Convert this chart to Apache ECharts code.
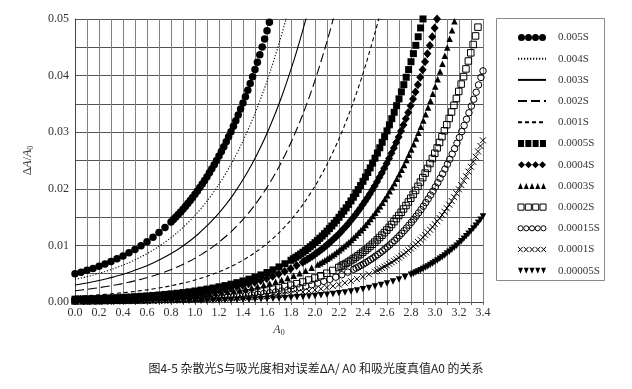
<!DOCTYPE html>
<html><head><meta charset="utf-8">
<script src="https://cdn.jsdelivr.net/npm/echarts@6/dist/echarts.min.js"></script>
<style>html,body{margin:0;padding:0;background:#fff}#c{width:632px;height:389px}</style>
</head><body><div id="c"></div>
<script>
// ---- data: [A0, dA/A0] ----
const legendNames = ['0.005S','0.004S','0.003S','0.002S','0.001S','0.0005S','0.0004S','0.0003S','0.0002S','0.00015S','0.0001S','0.00005S'];

const s005 = [[0,0.00498],[0.05,0.00527],[0.1,0.00559],[0.15,0.00594],[0.2,0.00631],[0.25,0.00671],[0.3,0.00715],[0.35,0.00762],[0.4,0.00814],[0.45,0.00869],[0.5,0.00929],[0.55,0.00995],[0.6,0.01066],[0.65,0.01143],[0.7,0.01226],[0.75,0.01317],[0.8,0.01415],[0.82,0.01457],[0.84,0.015],[0.86,0.01545],[0.88,0.01591],[0.9,0.01639],[0.92,0.01688],[0.94,0.01739],[0.96,0.01792],[0.98,0.01846],[1.0,0.01902],[1.02,0.01961],[1.04,0.02021],[1.06,0.02083],[1.08,0.02147],[1.1,0.02213],[1.12,0.02282],[1.14,0.02353],[1.16,0.02426],[1.18,0.02501],[1.2,0.0258],[1.22,0.0266],[1.24,0.02744],[1.26,0.0283],[1.28,0.02919],[1.3,0.0301],[1.32,0.03105],[1.34,0.03203],[1.36,0.03304],[1.38,0.03408],[1.4,0.03515],[1.42,0.03626],[1.44,0.03741],[1.46,0.03859],[1.48,0.0398],[1.5,0.04106],[1.52,0.04235],[1.54,0.04368],[1.56,0.04505],[1.58,0.04647],[1.6,0.04792],[1.62,0.04942],[1.64,0.05096],[1.66,0.05254]];

const s004 = [[0,0.00398],[0.097,0.00446],[0.147,0.00474],[0.197,0.00504],[0.247,0.00536],[0.297,0.00571],[0.347,0.00608],[0.397,0.00649],[0.447,0.00694],[0.497,0.00742],[0.547,0.00794],[0.597,0.00851],[0.647,0.00913],[0.697,0.0098],[0.747,0.01052],[0.797,0.01131],[0.847,0.01217],[0.897,0.01311],[0.997,0.01523],[1.097,0.01774],[1.197,0.0207],[1.297,0.0242],[1.397,0.02832],[1.497,0.03317],[1.597,0.03884],[1.697,0.04544],[1.757,0.04989],[1.797,0.05308]];

const s003 = [[0,0.00299],[0.122,0.00345],[0.222,0.0039],[0.272,0.00415],[0.322,0.00443],[0.372,0.00472],[0.422,0.00504],[0.472,0.00539],[0.522,0.00577],[0.572,0.00618],[0.622,0.00663],[0.672,0.00711],[0.722,0.00764],[0.772,0.00821],[0.822,0.00883],[0.872,0.00951],[0.922,0.01025],[0.972,0.01105],[1.022,0.01193],[1.122,0.01392],[1.222,0.01628],[1.322,0.01907],[1.422,0.02238],[1.522,0.02628],[1.622,0.03088],[1.722,0.03627],[1.822,0.04256],[1.882,0.04681],[1.922,0.04986],[1.962,0.05308]];

const s002 = [[0,0.002],[0.098,0.00224],[0.198,0.00253],[0.298,0.00287],[0.398,0.00326],[0.448,0.00349],[0.498,0.00373],[0.548,0.004],[0.598,0.00428],[0.648,0.00459],[0.698,0.00493],[0.748,0.0053],[0.798,0.00571],[0.848,0.00614],[0.898,0.00662],[0.948,0.00714],[0.998,0.00771],[1.048,0.00833],[1.098,0.009],[1.148,0.00974],[1.198,0.01054],[1.298,0.01236],[1.398,0.01454],[1.498,0.01712],[1.598,0.02018],[1.698,0.02381],[1.798,0.0281],[1.898,0.03313],[1.998,0.03903],[2.098,0.04588],[2.158,0.05049],[2.198,0.05378]];

const s001 = [[0,0.001],[0.099,0.00112],[0.199,0.00127],[0.299,0.00144],[0.399,0.00164],[0.499,0.00187],[0.599,0.00215],[0.699,0.00248],[0.749,0.00266],[0.799,0.00287],[0.849,0.00309],[0.899,0.00333],[0.949,0.00359],[0.999,0.00388],[1.049,0.0042],[1.099,0.00454],[1.149,0.00491],[1.199,0.00532],[1.249,0.00577],[1.299,0.00626],[1.349,0.00679],[1.399,0.00737],[1.449,0.00801],[1.499,0.00871],[1.599,0.01031],[1.699,0.01222],[1.799,0.0145],[1.899,0.01721],[1.999,0.02044],[2.099,0.02427],[2.199,0.02879],[2.299,0.0341],[2.399,0.0403],[2.499,0.04748],[2.539,0.05064],[2.599,0.05572]];

const s0005 = [[0,0.0005],[0.05,0.00053],[0.1,0.00056],[0.15,0.0006],[0.2,0.00063],[0.25,0.00068],[0.3,0.00072],[0.35,0.00077],[0.4,0.00082],[0.45,0.00088],[0.5,0.00094],[0.55,0.00101],[0.6,0.00108],[0.65,0.00116],[0.7,0.00124],[0.75,0.00134],[0.8,0.00144],[0.85,0.00155],[0.9,0.00167],[0.95,0.0018],[1.0,0.00195],[1.05,0.00211],[1.1,0.00228],[1.15,0.00247],[1.2,0.00268],[1.25,0.0029],[1.3,0.00315],[1.35,0.00342],[1.4,0.00372],[1.45,0.00404],[1.5,0.0044],[1.55,0.00479],[1.6,0.00521],[1.65,0.00568],[1.7,0.0062],[1.75,0.00676],[1.8,0.00737],[1.82,0.00764],[1.84,0.00791],[1.86,0.00819],[1.88,0.00848],[1.9,0.00879],[1.92,0.0091],[1.94,0.00943],[1.96,0.00977],[1.98,0.01012],[2.0,0.01049],[2.02,0.01086],[2.04,0.01126],[2.06,0.01166],[2.08,0.01209],[2.1,0.01252],[2.12,0.01297],[2.14,0.01344],[2.16,0.01393],[2.18,0.01443],[2.2,0.01496],[2.22,0.0155],[2.24,0.01606],[2.26,0.01664],[2.28,0.01724],[2.3,0.01786],[2.32,0.01851],[2.34,0.01917],[2.36,0.01986],[2.38,0.02058],[2.4,0.02132],[2.42,0.02208],[2.44,0.02288],[2.46,0.02369],[2.48,0.02454],[2.5,0.02541],[2.52,0.02632],[2.54,0.02725],[2.56,0.02822],[2.58,0.02921],[2.6,0.03024],[2.62,0.0313],[2.64,0.03239],[2.66,0.03352],[2.68,0.03469],[2.7,0.03589],[2.72,0.03713],[2.74,0.0384],[2.76,0.03971],[2.78,0.04106],[2.8,0.04245],[2.82,0.04388],[2.84,0.04535],[2.86,0.04687],[2.88,0.04842],[2.9,0.05001],[2.92,0.05165]];

const s0004 = [[0,0.0004],[0.047,0.00042],[0.097,0.00045],[0.147,0.00048],[0.197,0.00051],[0.247,0.00054],[0.297,0.00057],[0.347,0.00061],[0.397,0.00065],[0.447,0.0007],[0.497,0.00075],[0.547,0.0008],[0.597,0.00086],[0.647,0.00092],[0.697,0.00099],[0.747,0.00107],[0.797,0.00115],[0.847,0.00124],[0.897,0.00133],[0.947,0.00144],[0.997,0.00155],[1.047,0.00168],[1.097,0.00182],[1.147,0.00197],[1.197,0.00213],[1.247,0.00231],[1.297,0.00251],[1.347,0.00273],[1.397,0.00296],[1.447,0.00322],[1.497,0.00351],[1.547,0.00382],[1.597,0.00416],[1.647,0.00453],[1.697,0.00494],[1.747,0.00539],[1.797,0.00589],[1.847,0.00643],[1.897,0.00702],[1.917,0.00727],[1.937,0.00754],[1.957,0.00781],[1.977,0.00809],[1.997,0.00838],[2.017,0.00869],[2.037,0.009],[2.057,0.00933],[2.077,0.00967],[2.097,0.01002],[2.117,0.01039],[2.137,0.01077],[2.157,0.01116],[2.177,0.01157],[2.197,0.01199],[2.217,0.01243],[2.237,0.01288],[2.257,0.01335],[2.277,0.01384],[2.297,0.01434],[2.317,0.01487],[2.337,0.01541],[2.357,0.01597],[2.377,0.01656],[2.397,0.01716],[2.417,0.01778],[2.437,0.01843],[2.457,0.0191],[2.477,0.01979],[2.497,0.02051],[2.517,0.02125],[2.537,0.02202],[2.557,0.02281],[2.577,0.02363],[2.597,0.02448],[2.617,0.02536],[2.637,0.02627],[2.657,0.0272],[2.677,0.02817],[2.697,0.02917],[2.717,0.0302],[2.737,0.03126],[2.757,0.03236],[2.777,0.03349],[2.797,0.03466],[2.817,0.03586],[2.837,0.0371],[2.857,0.03838],[2.877,0.03969],[2.897,0.04105],[2.917,0.04244],[2.937,0.04387],[2.957,0.04534],[2.977,0.04686],[2.997,0.04841],[3.017,0.05],[3.037,0.05164]];

const s0003 = [[0,0.0003],[0.072,0.00033],[0.122,0.00035],[0.172,0.00037],[0.222,0.00039],[0.272,0.00042],[0.322,0.00044],[0.372,0.00047],[0.422,0.00051],[0.472,0.00054],[0.522,0.00058],[0.572,0.00062],[0.622,0.00067],[0.672,0.00072],[0.722,0.00077],[0.772,0.00083],[0.822,0.00089],[0.872,0.00096],[0.922,0.00104],[0.972,0.00112],[1.022,0.00121],[1.072,0.00131],[1.122,0.00142],[1.172,0.00154],[1.222,0.00167],[1.272,0.00181],[1.322,0.00196],[1.372,0.00213],[1.422,0.00232],[1.472,0.00252],[1.522,0.00275],[1.572,0.00299],[1.622,0.00326],[1.672,0.00356],[1.722,0.00388],[1.772,0.00424],[1.822,0.00463],[1.872,0.00506],[1.922,0.00553],[1.972,0.00604],[2.022,0.00661],[2.042,0.00685],[2.062,0.0071],[2.082,0.00736],[2.102,0.00763],[2.122,0.00791],[2.142,0.0082],[2.162,0.0085],[2.182,0.00882],[2.202,0.00914],[2.222,0.00948],[2.242,0.00983],[2.262,0.01019],[2.282,0.01057],[2.302,0.01096],[2.322,0.01136],[2.342,0.01178],[2.362,0.01222],[2.382,0.01267],[2.402,0.01314],[2.422,0.01362],[2.442,0.01413],[2.462,0.01465],[2.482,0.01519],[2.502,0.01575],[2.522,0.01633],[2.542,0.01693],[2.562,0.01755],[2.582,0.01819],[2.602,0.01886],[2.622,0.01955],[2.642,0.02026],[2.662,0.021],[2.682,0.02177],[2.702,0.02256],[2.722,0.02337],[2.742,0.02422],[2.762,0.02509],[2.782,0.026],[2.802,0.02693],[2.822,0.02789],[2.842,0.02889],[2.862,0.02991],[2.882,0.03097],[2.902,0.03207],[2.922,0.03319],[2.942,0.03436],[2.962,0.03555],[2.982,0.03679],[3.002,0.03806],[3.022,0.03936],[3.042,0.04071],[3.062,0.0421],[3.082,0.04352],[3.102,0.04498],[3.122,0.04649],[3.142,0.04803],[3.162,0.04961],[3.182,0.05124]];

const s0002 = [[0,0.0002],[0.048,0.00021],[0.098,0.00022],[0.148,0.00024],[0.198,0.00025],[0.248,0.00027],[0.298,0.00029],[0.348,0.00031],[0.398,0.00033],[0.448,0.00035],[0.498,0.00037],[0.548,0.0004],[0.598,0.00043],[0.648,0.00046],[0.698,0.0005],[0.748,0.00053],[0.798,0.00057],[0.848,0.00062],[0.898,0.00067],[0.948,0.00072],[0.998,0.00078],[1.048,0.00084],[1.098,0.00091],[1.148,0.00099],[1.198,0.00107],[1.248,0.00116],[1.298,0.00126],[1.348,0.00137],[1.398,0.00149],[1.448,0.00162],[1.498,0.00176],[1.548,0.00192],[1.598,0.00209],[1.648,0.00228],[1.698,0.00249],[1.748,0.00272],[1.798,0.00297],[1.848,0.00324],[1.898,0.00354],[1.948,0.00388],[1.998,0.00424],[2.048,0.00464],[2.098,0.00508],[2.148,0.00557],[2.198,0.0061],[2.218,0.00633],[2.238,0.00656],[2.258,0.00681],[2.278,0.00706],[2.298,0.00732],[2.318,0.0076],[2.338,0.00788],[2.358,0.00818],[2.378,0.00848],[2.398,0.0088],[2.418,0.00913],[2.438,0.00947],[2.458,0.00983],[2.478,0.0102],[2.498,0.01058],[2.518,0.01098],[2.538,0.01139],[2.558,0.01181],[2.578,0.01226],[2.598,0.01272],[2.618,0.01319],[2.638,0.01369],[2.658,0.0142],[2.678,0.01473],[2.698,0.01528],[2.718,0.01585],[2.738,0.01644],[2.758,0.01705],[2.778,0.01768],[2.798,0.01833],[2.818,0.01901],[2.838,0.01971],[2.858,0.02044],[2.878,0.02119],[2.898,0.02197],[2.918,0.02277],[2.938,0.0236],[2.958,0.02446],[2.978,0.02535],[2.998,0.02627],[3.018,0.02722],[3.038,0.02819],[3.058,0.0292],[3.078,0.03025],[3.098,0.03132],[3.118,0.03243],[3.138,0.03357],[3.158,0.03475],[3.178,0.03596],[3.198,0.03721],[3.218,0.0385],[3.238,0.03982],[3.258,0.04118],[3.278,0.04258],[3.298,0.04402],[3.318,0.04549],[3.338,0.04701],[3.358,0.04856],[3.378,0.05016],[3.398,0.0518]];

const s00015 = [[0,0.00015],[0.073,0.00016],[0.123,0.00017],[0.173,0.00018],[0.223,0.0002],[0.273,0.00021],[0.323,0.00022],[0.373,0.00024],[0.423,0.00025],[0.473,0.00027],[0.523,0.00029],[0.573,0.00031],[0.623,0.00033],[0.673,0.00036],[0.723,0.00039],[0.773,0.00042],[0.823,0.00045],[0.873,0.00048],[0.923,0.00052],[0.973,0.00056],[1.023,0.00061],[1.073,0.00066],[1.123,0.00071],[1.173,0.00077],[1.223,0.00084],[1.273,0.00091],[1.323,0.00098],[1.373,0.00107],[1.423,0.00116],[1.473,0.00127],[1.523,0.00138],[1.573,0.0015],[1.623,0.00164],[1.673,0.00179],[1.723,0.00195],[1.773,0.00213],[1.823,0.00233],[1.873,0.00255],[1.923,0.00279],[1.973,0.00305],[2.023,0.00334],[2.073,0.00365],[2.123,0.004],[2.173,0.00439],[2.223,0.00481],[2.273,0.00527],[2.323,0.00578],[2.343,0.006],[2.363,0.00622],[2.383,0.00646],[2.403,0.0067],[2.423,0.00695],[2.443,0.00722],[2.463,0.00749],[2.483,0.00777],[2.503,0.00807],[2.523,0.00837],[2.543,0.00869],[2.563,0.00902],[2.583,0.00936],[2.603,0.00972],[2.623,0.01008],[2.643,0.01047],[2.663,0.01086],[2.683,0.01127],[2.703,0.0117],[2.723,0.01214],[2.743,0.0126],[2.763,0.01307],[2.783,0.01357],[2.803,0.01408],[2.823,0.01461],[2.843,0.01516],[2.863,0.01573],[2.883,0.01631],[2.903,0.01693],[2.923,0.01756],[2.943,0.01821],[2.963,0.01889],[2.983,0.01959],[3.003,0.02032],[3.023,0.02107],[3.043,0.02185],[3.063,0.02265],[3.083,0.02348],[3.103,0.02434],[3.123,0.02522],[3.143,0.02614],[3.163,0.02709],[3.183,0.02806],[3.203,0.02907],[3.223,0.03011],[3.243,0.03119],[3.263,0.03229],[3.283,0.03343],[3.303,0.03461],[3.323,0.03582],[3.343,0.03706],[3.363,0.03835],[3.383,0.03967],[3.4,0.04083]];

const s0001 = [[0,0.0001],[0.049,0.00011],[0.099,0.00011],[0.149,0.00012],[0.199,0.00013],[0.249,0.00014],[0.299,0.00014],[0.349,0.00015],[0.399,0.00016],[0.449,0.00018],[0.499,0.00019],[0.549,0.0002],[0.599,0.00022],[0.649,0.00023],[0.699,0.00025],[0.749,0.00027],[0.799,0.00029],[0.849,0.00031],[0.899,0.00033],[0.949,0.00036],[0.999,0.00039],[1.049,0.00042],[1.099,0.00046],[1.149,0.00049],[1.199,0.00054],[1.249,0.00058],[1.299,0.00063],[1.349,0.00069],[1.399,0.00075],[1.449,0.00081],[1.499,0.00088],[1.549,0.00096],[1.599,0.00105],[1.649,0.00115],[1.699,0.00125],[1.749,0.00136],[1.799,0.00149],[1.849,0.00163],[1.899,0.00178],[1.949,0.00195],[1.999,0.00214],[2.049,0.00234],[2.099,0.00256],[2.149,0.00281],[2.199,0.00308],[2.249,0.00338],[2.299,0.0037],[2.349,0.00407],[2.399,0.00446],[2.449,0.0049],[2.499,0.00538],[2.519,0.00559],[2.539,0.0058],[2.559,0.00602],[2.579,0.00625],[2.599,0.00649],[2.619,0.00674],[2.639,0.007],[2.659,0.00727],[2.679,0.00755],[2.699,0.00784],[2.719,0.00814],[2.739,0.00845],[2.759,0.00877],[2.779,0.00911],[2.799,0.00946],[2.819,0.00982],[2.839,0.0102],[2.859,0.01059],[2.879,0.01099],[2.899,0.01141],[2.919,0.01185],[2.939,0.0123],[2.959,0.01277],[2.979,0.01326],[2.999,0.01376],[3.019,0.01428],[3.039,0.01482],[3.059,0.01538],[3.079,0.01596],[3.099,0.01657],[3.119,0.01719],[3.139,0.01784],[3.159,0.01851],[3.179,0.0192],[3.199,0.01992],[3.219,0.02066],[3.239,0.02142],[3.259,0.02222],[3.279,0.02304],[3.299,0.02389],[3.319,0.02476],[3.339,0.02567],[3.359,0.0266],[3.379,0.02756],[3.399,0.02856]];

const s00005 = [[0,0.00005],[0.05,0.00005],[0.1,0.00006],[0.15,0.00006],[0.2,0.00006],[0.25,0.00007],[0.3,0.00007],[0.35,0.00008],[0.4,0.00008],[0.45,0.00009],[0.5,0.00009],[0.55,0.0001],[0.6,0.00011],[0.65,0.00012],[0.7,0.00012],[0.75,0.00013],[0.8,0.00014],[0.85,0.00016],[0.9,0.00017],[0.95,0.00018],[1.0,0.0002],[1.05,0.00021],[1.1,0.00023],[1.15,0.00025],[1.2,0.00027],[1.25,0.00029],[1.3,0.00032],[1.35,0.00034],[1.4,0.00037],[1.45,0.00041],[1.5,0.00044],[1.55,0.00048],[1.6,0.00053],[1.65,0.00057],[1.7,0.00063],[1.75,0.00068],[1.8,0.00075],[1.85,0.00082],[1.9,0.0009],[1.95,0.00098],[2.0,0.00107],[2.05,0.00118],[2.1,0.00129],[2.15,0.00141],[2.2,0.00155],[2.25,0.0017],[2.3,0.00187],[2.35,0.00205],[2.4,0.00225],[2.45,0.00247],[2.5,0.00272],[2.55,0.00299],[2.6,0.00328],[2.65,0.00361],[2.7,0.00397],[2.75,0.00437],[2.8,0.00481],[2.82,0.005],[2.84,0.00519],[2.86,0.0054],[2.88,0.00561],[2.9,0.00583],[2.92,0.00605],[2.94,0.00629],[2.96,0.00654],[2.98,0.00679],[3.0,0.00706],[3.02,0.00733],[3.04,0.00762],[3.06,0.00792],[3.08,0.00823],[3.1,0.00855],[3.12,0.00888],[3.14,0.00922],[3.16,0.00958],[3.18,0.00996],[3.2,0.01034],[3.22,0.01075],[3.24,0.01116],[3.26,0.0116],[3.28,0.01205],[3.3,0.01251],[3.32,0.01299],[3.34,0.01349],[3.36,0.01401],[3.38,0.01455],[3.4,0.01511]];

const caption = '图4-5 杂散光S与吸光度相对误差ΔA/ A0 和吸光度真值A0 的关系';

// ---- styling ----
const SERIF = '"Liberation Serif", "Times New Roman", serif';
const BLK = '#000';
const crossPath = 'path://M0,0L10,10M10,0L0,10';

const icons = {
  circles: 'path://M0,3.5a3.5,3.5 0 1 0 7,0a3.5,3.5 0 1 0 -7,0ZM7,3.5a3.5,3.5 0 1 0 7,0a3.5,3.5 0 1 0 -7,0ZM14,3.5a3.5,3.5 0 1 0 7,0a3.5,3.5 0 1 0 -7,0ZM21,3.5a3.5,3.5 0 1 0 7,0a3.5,3.5 0 1 0 -7,0Z',
  squares: 'path://M0,0h6v7h-6zM7.3,0h6v7h-6zM14.6,0h6v7h-6zM21.9,0h6v7h-6z',
  diamonds: 'path://M0,3.5L3.5,0L7,3.5L3.5,7ZM7,3.5L10.5,0L14,3.5L10.5,7ZM14,3.5L17.5,0L21,3.5L17.5,7ZM21,3.5L24.5,0L28,3.5L24.5,7Z',
  triangles: 'path://M0,7L2.5,1L5,7ZM5.75,7L8.25,1L10.75,7ZM11.5,7L14,1L16.5,7ZM17.25,7L19.75,1L22.25,7ZM23,7L25.5,1L28,7Z',
  osquares: 'path://M0.5,0.5h5.8v6h-5.8zM7.6,0.5h5.8v6h-5.8zM14.7,0.5h5.8v6h-5.8zM21.8,0.5h5.8v6h-5.8z',
  ocircles: 'path://M0.3,3.5a2.5,2.5 0 1 0 5,0a2.5,2.5 0 1 0 -5,0ZM5.9,3.5a2.5,2.5 0 1 0 5,0a2.5,2.5 0 1 0 -5,0ZM11.5,3.5a2.5,2.5 0 1 0 5,0a2.5,2.5 0 1 0 -5,0ZM17.1,3.5a2.5,2.5 0 1 0 5,0a2.5,2.5 0 1 0 -5,0ZM22.7,3.5a2.5,2.5 0 1 0 5,0a2.5,2.5 0 1 0 -5,0Z',
  crosses: 'path://M0.3,1L4.8,6M4.8,1L0.3,6M5.9,1L10.4,6M10.4,1L5.9,6M11.5,1L16,6M16,1L11.5,6M17.1,1L21.6,6M21.6,1L17.1,6M22.7,1L27.2,6M27.2,1L22.7,6',
  dtriangles: 'path://M0,1L5,1L2.5,7ZM5.75,1L10.75,1L8.25,7ZM11.5,1L16.5,1L14,7ZM17.25,1L22.25,1L19.75,7ZM23,1L28,1L25.5,7Z'
};

function scatterSeries(name, data, symbol, size, hollow, rotate) {
  return {
    name, type: 'scatter', data, symbol, symbolSize: size, symbolRotate: rotate || 0,
    clip: true, silent: true,
    itemStyle: hollow
      ? {color: 'rgba(255,255,255,0)', borderColor: BLK, borderWidth: 1, opacity: 1}
      : {color: BLK, opacity: 1}
  };
}
function lineSeries(name, data, type) {
  return {
    name, type: 'line', data, showSymbol: false, symbol: 'none', smooth: 0.3, clip: true, silent: true,
    lineStyle: {color: BLK, width: 1.1, type}, itemStyle: {color: BLK}
  };
}

const hollowStyle = {color: 'rgba(255,255,255,0)', borderColor: BLK, borderWidth: 1};
const solidStyle = {color: BLK, borderWidth: 0};
const noSymbolStyle = {color: 'rgba(0,0,0,0)', borderColor: 'rgba(0,0,0,0)', borderWidth: 0, opacity: 0};

const option = {
  animation: false,
  backgroundColor: '#fff',
  title: {
    text: caption, left: 'center', top: 357,
    textStyle: {fontFamily: '"Noto Sans CJK SC", sans-serif', fontSize: 12, fontWeight: 'normal', color: '#222'}
  },
  grid: {left: 75, top: 19, width: 408, height: 283},
  xAxis: {
    type: 'value', min: 0, max: 3.4, interval: 0.1,
    name: '{i|A}{s|0}', nameLocation: 'middle', nameGap: 18,
    nameTextStyle: {rich: {
      i: {fontFamily: SERIF, fontStyle: 'italic', fontSize: 12, color: '#333'},
      s: {fontFamily: SERIF, fontSize: 8, color: '#333', padding: [7, 0, 0, 0]}
    }},
    axisLine: {lineStyle: {color: '#444'}},
    axisTick: {show: true, length: 3, lineStyle: {color: '#666'}},
    axisLabel: {
      formatter: v => (Math.round(v * 10) % 2 === 0 ? v.toFixed(1) : ''),
      fontFamily: SERIF, fontSize: 12, color: '#333', margin: 5
    },
    splitLine: {show: true, lineStyle: {color: '#808080', width: 1}}
  },
  yAxis: {
    type: 'value', min: 0, max: 0.05, interval: 0.005,
    name: '{d|Δ}{i|A}{d|/}{i|A}{s|0}', nameLocation: 'middle', nameGap: 40,
    nameTextStyle: {rich: {
      d: {fontFamily: SERIF, fontSize: 12, color: '#333'},
      i: {fontFamily: SERIF, fontStyle: 'italic', fontSize: 12, color: '#333'},
      s: {fontFamily: SERIF, fontSize: 8, color: '#333', padding: [7, 0, 0, 0]}
    }},
    axisLine: {show: true, lineStyle: {color: '#444'}},
    axisTick: {show: false},
    axisLabel: {
      formatter: v => (Math.round(v * 1000) % 10 === 0 ? v.toFixed(2) : ''),
      fontFamily: SERIF, fontSize: 12, color: '#333', margin: 6
    },
    splitLine: {show: true, lineStyle: {color: '#555', width: 1}}
  },
  legend: {
    orient: 'vertical', left: 512, top: 27, itemWidth: 28, itemHeight: 7, itemGap: 10.2,
    selectedMode: false,
    textStyle: {fontFamily: SERIF, fontSize: 11, color: '#333', padding: [0, 0, 0, 7]},
    data: [
      {name: '0.005S', icon: icons.circles, itemStyle: solidStyle},
      {name: '0.004S', itemStyle: noSymbolStyle},
      {name: '0.003S', itemStyle: noSymbolStyle},
      {name: '0.002S', itemStyle: noSymbolStyle},
      {name: '0.001S', itemStyle: noSymbolStyle},
      {name: '0.0005S', icon: icons.squares, itemStyle: solidStyle},
      {name: '0.0004S', icon: icons.diamonds, itemStyle: solidStyle},
      {name: '0.0003S', icon: icons.triangles, itemStyle: solidStyle},
      {name: '0.0002S', icon: icons.osquares, itemStyle: hollowStyle},
      {name: '0.00015S', icon: icons.ocircles, itemStyle: hollowStyle},
      {name: '0.0001S', icon: icons.crosses, itemStyle: hollowStyle},
      {name: '0.00005S', icon: icons.dtriangles, itemStyle: solidStyle}
    ]
  },
  graphic: [{
    type: 'rect', left: 496, top: 18, z: -1,
    shape: {width: 108, height: 262},
    style: {fill: '#fff', stroke: '#8a8a8a', lineWidth: 1}
  }],
  series: [
    scatterSeries(legendNames[0], s005, 'circle', 7.5),
    lineSeries(legendNames[1], s004, [1.2, 1.8]),
    lineSeries(legendNames[2], s003, 'solid'),
    lineSeries(legendNames[3], s002, [9, 4]),
    lineSeries(legendNames[4], s001, [4, 3]),
    scatterSeries(legendNames[5], s0005, 'rect', 7),
    scatterSeries(legendNames[6], s0004, 'diamond', [8, 9]),
    scatterSeries(legendNames[7], s0003, 'triangle', 6.5),
    scatterSeries(legendNames[8], s0002, 'rect', 6.5, true),
    scatterSeries(legendNames[9], s00015, 'circle', 6.5, true),
    scatterSeries(legendNames[10], s0001, crossPath, 6, true),
    scatterSeries(legendNames[11], s00005, 'triangle', 6.5, false, 180)
  ]
};

const chart = echarts.init(document.getElementById('c'), null, {renderer: 'canvas'});
chart.setOption(option);
</script>
</body></html>
